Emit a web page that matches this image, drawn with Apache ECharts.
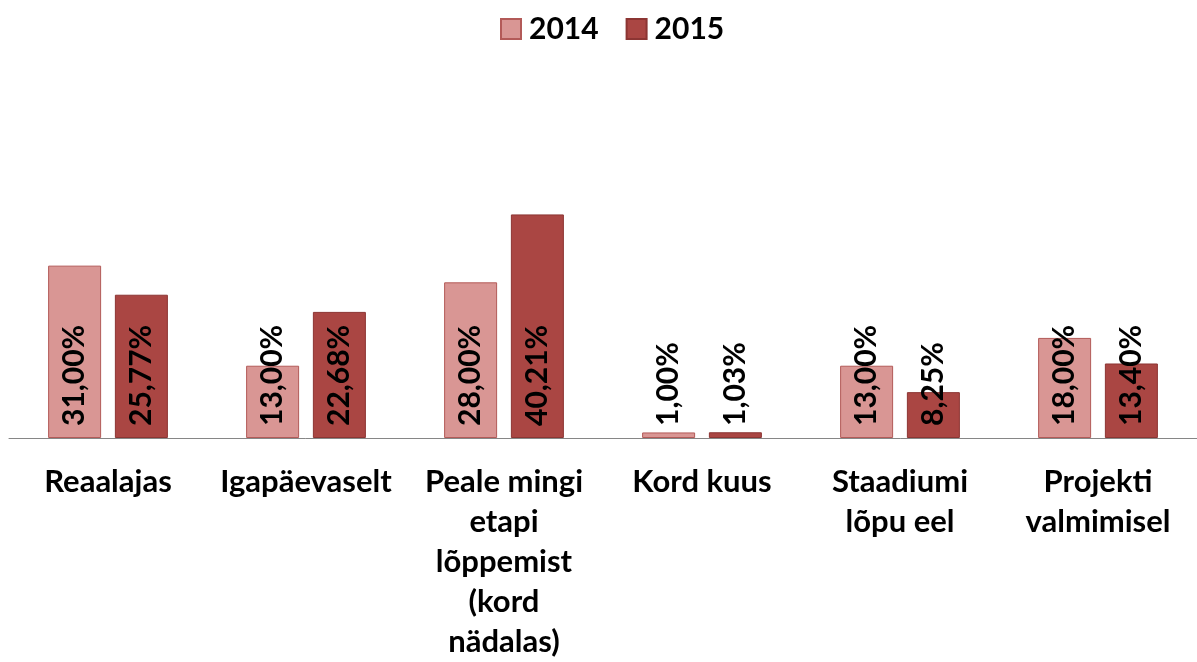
<!DOCTYPE html>
<html>
<head>
<meta charset="utf-8">
<script src="https://cdn.jsdelivr.net/npm/echarts@6/dist/echarts.min.js"></script>
<style>
html,body{margin:0;padding:0;background:#fff;}
#chart{width:1197px;height:662px;}
</style>
</head>
<body>
<div id="chart"></div>
<script>
var categories = ['Reaalajas', 'Igapäevaselt', 'Peale mingi\netapi\nlõppemist\n(kord\nnädalas)', 'Kord kuus', 'Staadiumi\nlõpu eel', 'Projekti\nvalmimisel'];
var values2014 = [31.00, 13.00, 28.00, 1.00, 13.00, 18.00];
var values2015 = [25.77, 22.68, 40.21, 1.03, 8.25, 13.40];
var seriesNames = ['2014', '2015'];

function pct(p) {
    return p.value.toFixed(2).replace('.', ',') + '%';
}

var labelStyle = {
    show: true,
    position: 'insideBottom',
    rotate: 90,
    align: 'left',
    verticalAlign: 'middle',
    distance: 12,
    fontFamily: 'Lato',
    fontWeight: 'bold',
    fontSize: 30,
    color: '#000',
    formatter: pct
};

var option = {
    animation: false,
    legend: {
        top: 9,
        left: 495,
        icon: 'rect',
        itemWidth: 20,
        itemHeight: 20,
        itemGap: 27,
        textStyle: {
            fontFamily: 'Lato',
            fontWeight: 'bold',
            fontSize: 30,
            color: '#000',
            padding: [0, 0, 0, 3]
        },
        data: seriesNames
    },
    grid: {
        left: 9,
        right: -9,
        top: 160,
        bottom: 224
    },
    xAxis: {
        type: 'category',
        data: categories,
        axisLine: {lineStyle: {color: '#868686', width: 1}},
        axisTick: {show: false},
        axisLabel: {
            interval: 0,
            margin: 24,
            fontFamily: 'Lato',
            fontWeight: 'bold',
            fontSize: 31,
            lineHeight: 40,
            color: '#000'
        }
    },
    yAxis: {
        type: 'value',
        min: 0,
        max: 50,
        show: false,
        splitLine: {show: false}
    },
    series: [
        {
            name: seriesNames[0],
            type: 'bar',
            data: values2014,
            barWidth: 53,
            barGap: '26%',
            itemStyle: {color: '#D99694', borderColor: '#B35A58', borderWidth: 1},
            label: labelStyle
        },
        {
            name: seriesNames[1],
            type: 'bar',
            data: values2015,
            barWidth: 53,
            itemStyle: {color: '#AA4643', borderColor: '#8C3533', borderWidth: 1},
            label: labelStyle
        }
    ]
};

var chart = echarts.init(document.getElementById('chart'));
chart.setOption(option);
</script>
</body>
</html>
